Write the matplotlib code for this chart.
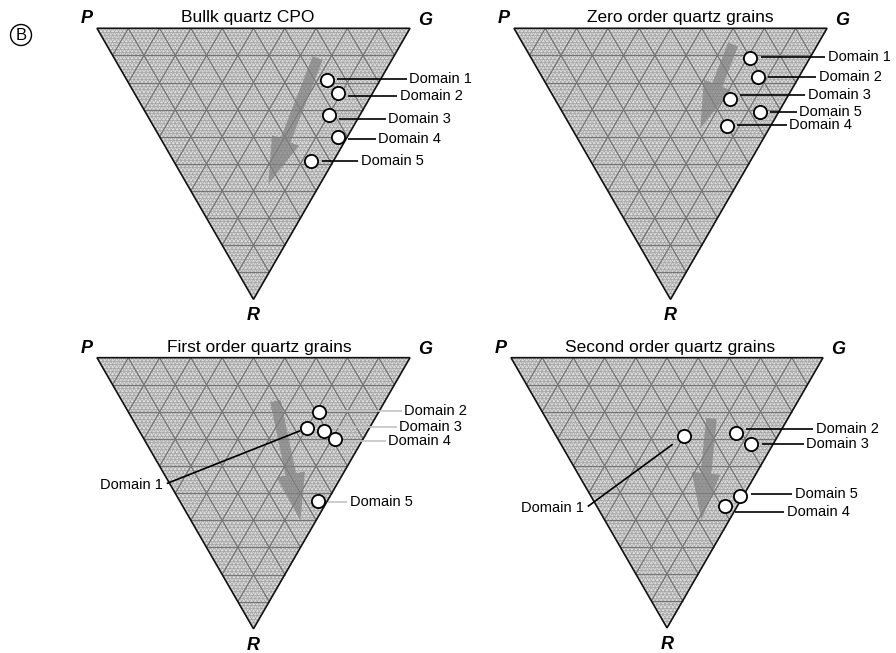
import numpy as np
import matplotlib
matplotlib.use("Agg")
import matplotlib.pyplot as plt
from matplotlib.collections import LineCollection
from matplotlib.patches import Polygon, FancyArrow

plt.rcParams['font.family'] = ['Liberation Sans', 'DejaVu Sans']

W, H = 896, 653
SQ3 = np.sqrt(3) / 2

# ---- data: P, G, R fractions for every domain ----
titles = ["Bullk quartz CPO", "Zero order quartz grains",
          "First order quartz grains", "Second order quartz grains"]
domains = ["Domain 1", "Domain 2", "Domain 3", "Domain 4", "Domain 5"]

bulk_P = [0.17, 0.11, 0.10, 0.03, 0.07]
bulk_G = [0.64, 0.65, 0.58, 0.57, 0.44]
bulk_R = [0.19, 0.24, 0.32, 0.40, 0.49]

zero_P = [0.19, 0.13, 0.18, 0.14, 0.06]
zero_G = [0.70, 0.69, 0.56, 0.50, 0.63]
zero_R = [0.11, 0.18, 0.26, 0.36, 0.31]

first_P = [0.20, 0.19, 0.14, 0.09, 0.03]
first_G = [0.54, 0.61, 0.59, 0.61, 0.44]
first_R = [0.26, 0.20, 0.27, 0.30, 0.53]

second_P = [0.30, 0.14, 0.07, 0.04, 0.01]
second_G = [0.41, 0.58, 0.61, 0.41, 0.48]
second_R = [0.29, 0.28, 0.32, 0.55, 0.51]

# trend arrows: (P, G, R) of tail and of tip
arrow_tail = [(0.24, 0.65, 0.11), (0.27, 0.67, 0.06), (0.35, 0.49, 0.16), (0.245, 0.53, 0.225)]
arrow_tip = [(0.165, 0.26, 0.575), (0.22, 0.41, 0.37), (0.05, 0.35, 0.60), (0.09, 0.31, 0.60)]

vertex_names = ["P", "G", "R"]

# ---- layout ----
# top-left corner (pixels) and side length of each triangle
panel_origin = [(97, 28.3, 313), (514, 28.3, 313), (97, 357.7, 313), (511, 357.7, 312)]
title_x = [0.481, 0.532, 0.520, 0.511]

# label anchors (left edge x, centre y) in triangle units
label_pos = [
    [(0.997, -0.162), (0.968, -0.215), (0.930, -0.290), (0.898, -0.355), (0.843, -0.424)],
    [(1.003, -0.092), (0.974, -0.156), (0.939, -0.213), (0.879, -0.309), (0.911, -0.267)],
    [(0.211, -0.406), (0.981, -0.169), (0.965, -0.222), (0.930, -0.265), (0.808, -0.461)],
    [(0.234, -0.481), (0.977, -0.229), (0.946, -0.277), (0.884, -0.494), (0.910, -0.437)],
]
# Domain 1 in the lower panels is labelled on the left with a slanted leader
left_label = [False, False, True, True]
leader_colors = [
    ["black"] * 5,
    ["black"] * 5,
    ["black", "#c4c4c4", "#c4c4c4", "#c4c4c4", "#c4c4c4"],
    ["black"] * 5,
]
leader_gap = [None, None, 0.022, 0.045]

panels = [(bulk_P, bulk_G, bulk_R), (zero_P, zero_G, zero_R),
          (first_P, first_G, first_R), (second_P, second_G, second_R)]


def tern(p, g, r):
    p, g, r = np.asarray(p, float), np.asarray(g, float), np.asarray(r, float)
    s = p + g + r
    g, r = g / s, r / s
    return g + r / 2.0, -r * SQ3


def make_axes(fig, px, py, side, xa=-0.32, xb=1.38, ya=-1.0, yb=0.15):
    left = (px + xa * side) / W
    width = (xb - xa) * side / W
    bottom = 1 - (py - ya * side) / H
    height = (yb - ya) * side / H
    ax = fig.add_axes([left, bottom, width, height])
    ax.set_xlim(xa, xb)
    ax.set_ylim(ya, yb)
    ax.axis("off")
    return ax


def grid_segments(n):
    segs = []
    for k in range(1, n):
        f = k / n
        for a, b in [((1 - f, 0, f), (0, 1 - f, f)),
                     ((1 - f, f, 0), (0, f, 1 - f)),
                     ((f, 1 - f, 0), (f, 0, 1 - f))]:
            x0, y0 = tern(*a)
            x1, y1 = tern(*b)
            segs.append([(float(x0), float(y0)), (float(x1), float(y1))])
    return segs


fig = plt.figure(figsize=(W / 100, H / 100), dpi=100)

for i, (Pv, Gv, Rv) in enumerate(panels):
    px, py, side = panel_origin[i]
    ax = make_axes(fig, px, py, side)

    corners = np.array([tern(1, 0, 0), tern(0, 1, 0), tern(0, 0, 1)])
    ax.add_patch(Polygon(corners, closed=True, fc="#dcdcdc", ec="none", zorder=0))
    fine = LineCollection(grid_segments(80), colors="#a2a2a2", linewidths=0.5, zorder=1)
    ax.add_collection(fine)
    major = LineCollection(grid_segments(10), colors="#747474", linewidths=0.9, zorder=2)
    ax.add_collection(major)
    ax.add_patch(Polygon(corners, closed=True, fc="none", ec="#111111", lw=1.2, zorder=3))

    # trend arrow
    tx, ty = tern(*arrow_tail[i])
    hx, hy = tern(*arrow_tip[i])
    ax.add_patch(FancyArrow(float(tx), float(ty), float(hx - tx), float(hy - ty),
                            width=0.034, head_width=0.092, head_length=0.15,
                            length_includes_head=True, fc="#808080", ec="none",
                            alpha=0.7, zorder=4))

    xs, ys = tern(Pv, Gv, Rv)

    # leaders and labels
    for j, name in enumerate(domains):
        lx, ly = label_pos[i][j]
        col = leader_colors[i][j]
        if j == 0 and left_label[i]:
            dx, dy = xs[j] - lx, ys[j] - ly
            d = np.hypot(dx, dy)
            t = 1 - leader_gap[i] / d
            ax.plot([lx + 0.012, lx + dx * t], [ly + 0.004 * (dy / abs(dy)), ly + dy * t],
                    color=col, lw=1.2, zorder=5, solid_capstyle="butt")
            ax.text(lx, ly, name, ha="right", va="center", fontsize=10.5, zorder=7)
        else:
            ax.plot([xs[j] + 0.033, lx - 0.008], [ly, ly], color=col, lw=1.2,
                    zorder=5, solid_capstyle="butt")
            ax.text(lx, ly, name, ha="left", va="center", fontsize=10.5, zorder=7)

    ax.plot(xs, ys, "o", ms=9.5, mfc="white", mec="black", mew=1.3, ls="none", zorder=6)

    # title and vertex labels
    ax.text(title_x[i], 0.034, titles[i], ha="center", va="center", fontsize=12.5)
    vx, vy = tern(1, 0, 0)
    ax.text(vx - 0.033, vy + 0.03, vertex_names[0], ha="center", va="center",
            fontsize=13, fontweight="bold", fontstyle="italic")
    vx, vy = tern(0, 1, 0)
    ax.text(vx + 0.048, vy + 0.026, vertex_names[1], ha="center", va="center",
            fontsize=13, fontweight="bold", fontstyle="italic")
    vx, vy = tern(0, 0, 1)
    ax.text(vx, vy - 0.052, vertex_names[2], ha="center", va="center",
            fontsize=13, fontweight="bold", fontstyle="italic")

fig.text(21 / W, 1 - 35 / H, "B", ha="center", va="center", fontsize=12,
         bbox=dict(boxstyle="circle,pad=0.18", fc="white", ec="black", lw=1.0))

fig.savefig("out.png", dpi=100)
